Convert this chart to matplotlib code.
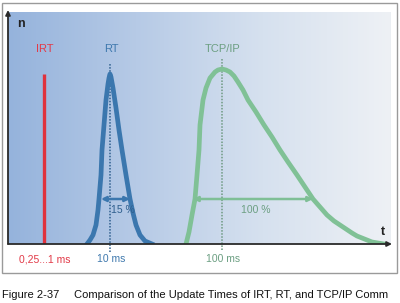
import matplotlib
matplotlib.use('Agg')
import matplotlib.pyplot as plt
import matplotlib as mpl
import numpy as np
from matplotlib.patches import Rectangle

plt.rcParams['font.family'] = ['Liberation Sans', 'DejaVu Sans']

# schematic axes: x = time position, y = n (both in plot units)
names = ['IRT', 'RT', 'TCP/IP']
centres = [36, 102, 214]
time_labels = ['0,25...1 ms', '10 ms', '100 ms']
colours = ['#e0323d', '#3b77ae', '#80c196']
text_colours = ['#e23a48', '#3e78ad', '#6c9f82']

irt_height = 170

rt_x = [79, 82, 85, 88, 90, 91, 93, 94, 96, 98, 100, 101, 102, 103,
        105, 108, 111, 114, 118, 122, 125, 128, 132, 137, 144]
rt_n = [0, 4, 9, 19, 34, 45, 69, 94, 119, 144, 160, 166, 170, 167,
        156, 136, 114, 94, 69, 45, 31, 19, 9, 3, 0]

tcp_x = [178, 181, 184, 187, 189, 191, 192, 195, 198, 202, 207, 210, 214,
         218, 222, 226, 230, 235, 240, 248, 256, 264, 272, 280, 289, 297,
         305, 312, 319, 326, 332, 338, 344, 349, 354, 359, 364, 370, 376]
tcp_n = [0, 12, 29, 45, 69, 94, 119, 144, 156, 166, 172, 174, 175,
         174, 172, 168, 162, 154, 144, 132, 119, 107, 94, 82, 69, 57,
         45, 37, 29, 23, 19, 15, 11, 8, 6, 4, 2, 1, 0]

spread_labels = ['15 %', '100 %']
spread_from = [93, 185]
spread_to = [122, 305]
spread_level = 45

caption_no = 'Figure 2-37'
caption = 'Comparison of the Update Times of IRT, RT, and TCP/IP Comm'


def main():
    fig = plt.figure(figsize=(4.0, 3.03), dpi=100)

    # outer frame
    fig.add_artist(Rectangle((2 / 400, 1 - 273 / 303), 395 / 400, 270 / 303,
                             transform=fig.transFigure, fill=False,
                             edgecolor='#9a9a9a', lw=1.0))
    fig.text(2 / 400, 1 - 295 / 303, caption_no, fontsize=8,
             color='#111111', va='center', ha='left')
    fig.text(74 / 400, 1 - 295 / 303, caption,
             fontsize=8, color='#111111', va='center', ha='left')

    ax = fig.add_axes([8 / 400, 1 - 244 / 303, 383 / 400, 232 / 303])
    ax.set_xlim(0, 383)
    ax.set_ylim(0, 232)
    ax.axis('off')

    cmap = mpl.colors.LinearSegmentedColormap.from_list(
        'bg', ['#95b3dc', '#b6cae6', '#d6e1ef', '#eef1f5'])
    grad = np.linspace(0, 1, 256).reshape(1, -1)
    ax.imshow(grad, cmap=cmap, extent=[0, 383, 0, 232], aspect='auto', zorder=0)
    ax.plot([383, 383], [0, 232], color='#c9cdd3', lw=0.8, zorder=1)

    # dotted centre lines
    ax.plot([centres[1], centres[1]], [-8, 181], color='#2f5f8e', lw=1.1,
            ls=(0, (1, 1)), clip_on=False, zorder=3)
    ax.plot([centres[2], centres[2]], [-6, 186], color='#6f9a82', lw=1.1,
            ls=(0, (1, 1)), clip_on=False, zorder=3)

    # curves
    ax.plot([centres[0], centres[0]], [0, irt_height], color=colours[0], lw=2.4,
            zorder=4, solid_capstyle='butt')
    ax.plot(rt_x, rt_n, color=colours[1], lw=3.4, zorder=4,
            solid_joinstyle='round')
    ax.plot(tcp_x, tcp_n, color=colours[2], lw=3.4, zorder=4,
            solid_joinstyle='round')

    # spread arrows
    arrow_colours = ['#3b77ae', '#7fbf96']
    spread_text = ['#2f5f8e', '#6c9f82']
    for i in range(len(spread_labels)):
        ax.annotate('', xy=(spread_to[i], spread_level),
                    xytext=(spread_from[i], spread_level),
                    arrowprops=dict(arrowstyle='<|-|>', color=arrow_colours[i],
                                    lw=1.8, mutation_scale=7, shrinkA=0,
                                    shrinkB=0), zorder=5)
        ax.text((spread_from[i] + spread_to[i]) / 2 + (7 if i == 0 else 3),
                spread_level - 11, spread_labels[i], fontsize=7.5,
                color=spread_text[i], ha='center', va='center', zorder=6)

    # names and time labels
    for i in range(len(names)):
        ax.text(centres[i] + 1, 195, names[i], fontsize=8, color=text_colours[i],
                ha='center', va='center')
        ax.text(centres[i] + 1, -15, time_labels[i], fontsize=7.5,
                color=text_colours[i], ha='center', va='center', clip_on=False)

    # axes with arrows
    ax.annotate('', xy=(0, 234), xytext=(0, 0),
                arrowprops=dict(arrowstyle='-|>', color='#2a2a2a', lw=1.3,
                                mutation_scale=7, shrinkA=0, shrinkB=0),
                annotation_clip=False, zorder=7)
    ax.annotate('', xy=(384, 0), xytext=(0, 0),
                arrowprops=dict(arrowstyle='-|>', color='#2a2a2a', lw=1.3,
                                mutation_scale=7, shrinkA=0, shrinkB=0),
                annotation_clip=False, zorder=7)
    ax.text(13, 220, 'n', fontsize=9, fontweight='bold', color='#222222',
            ha='center', va='center')
    ax.text(375, 12, 't', fontsize=9, fontweight='bold', color='#222222',
            ha='center', va='center')

    fig.savefig('out.png', dpi=100)


if __name__ == '__main__':
    main()
